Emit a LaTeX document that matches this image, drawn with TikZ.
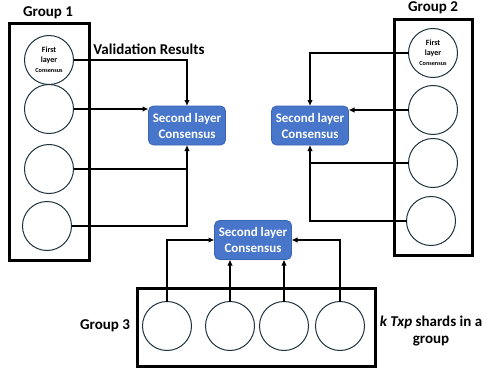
\documentclass[tikz,border=0pt]{standalone}
\usepackage{fontspec}
\setmainfont{Carlito}
\usetikzlibrary{arrows.meta}
\definecolor{slfill}{RGB}{72,118,202}
\definecolor{sldraw}{RGB}{60,100,180}
\definecolor{circ}{RGB}{30,50,60}
\tikzset{
  grp/.style={draw=black, line width=3pt, inner sep=0pt, outer sep=0pt},
  shard/.style={draw=circ, line width=1pt, circle, minimum size=49pt, inner sep=0pt, outer sep=0pt},
  slbox/.style={draw=sldraw, fill=slfill, rounded corners=5pt, line width=0.8pt, minimum width=77pt, minimum height=39pt, inner sep=0pt, outer sep=0pt, text=white, font=\bfseries\fontsize{13}{16}\selectfont, align=center},
  lbl/.style={font=\bfseries\fontsize{15}{17}\selectfont, inner sep=0pt},
  conn/.style={line width=1.3pt, draw=black},
  arr/.style={conn, -{Latex[length=6pt,width=5.5pt]}}
}
\begin{document}
\begin{tikzpicture}[x=1pt,y=-1pt]
\useasboundingbox (0,0) rectangle (483,372);
% group boxes
\node[grp, minimum width=80pt, minimum height=237pt] (g1) at (49,141.5) {};
\node[grp, minimum width=78pt, minimum height=236pt] (g2) at (433,137) {};
\node[grp, minimum width=238pt, minimum height=78pt] (g3) at (256,327) {};
% group labels
\node[lbl] (g1l) at (48,13) {Group 1};
\node[lbl] (g2l) at (433,8) {Group 2};
\node[lbl] (g3l) at (105,326) {Group 3};
\node[lbl, align=center] (kl) at (431,331) {\textit{k Txp} shards in a\\group};
\node[lbl] (vr) at (149,49) {Validation Results};
% group 1 circles
\node[shard, align=center] (c11) at (49,60) {{\bfseries\fontsize{8}{11}\selectfont First}\\[-2pt]{\bfseries\fontsize{8}{11}\selectfont layer}\\[-2pt]{\bfseries\fontsize{6.2}{9}\selectfont Consensus}};
\node[shard] (c12) at (49,109) {};
\node[shard] (c13) at (49,169) {};
\node[shard] (c14) at (47,226) {};
% group 2 circles
\node[shard, align=center] (c21) at (433,53) {{\bfseries\fontsize{8}{11}\selectfont First}\\[-2pt]{\bfseries\fontsize{8}{11}\selectfont layer}\\[-2pt]{\bfseries\fontsize{6.2}{9}\selectfont Consensus}};
\node[shard] (c22) at (433,110) {};
\node[shard] (c23) at (433,163) {};
\node[shard] (c24) at (431,221) {};
% group 3 circles
\node[shard] (c31) at (167,326) {};
\node[shard] (c32) at (230,326) {};
\node[shard] (c33) at (284,326) {};
\node[shard] (c34) at (340,326) {};
% second layer boxes
\node[slbox] (s1) at (187,125.5) {Second layer\\Consensus};
\node[slbox] (s2) at (310,125.5) {Second layer\\Consensus};
\node[slbox] (s3) at (253,240) {Second layer\\Consensus};
% group 1 connectors
\draw[arr] (c11.east) -| (s1.north);
\draw[arr] (c12.east) -- (c12.east -| s1.west);
\draw[arr] (c13.east) -| (s1.south);
\draw[conn] (c14.east) -| (c13.east -| s1.south);
% group 2 connectors
\draw[arr] (c21.west) -| (s2.north);
\draw[arr] (c22.west) -- (c22.west -| s2.east);
\draw[arr] (c23.west) -| (s2.south);
\draw[conn] (c24.west) -| (c23.west -| s2.south);
% group 3 connectors
\draw[arr] (c31.north) |- (s3.west);
\draw[arr] (c32.north) -- (c32.north |- s3.south);
\draw[arr] (c33.north) -- (c33.north |- s3.south);
\draw[arr] (c34.north) |- (s3.east);
\end{tikzpicture}
\end{document}
